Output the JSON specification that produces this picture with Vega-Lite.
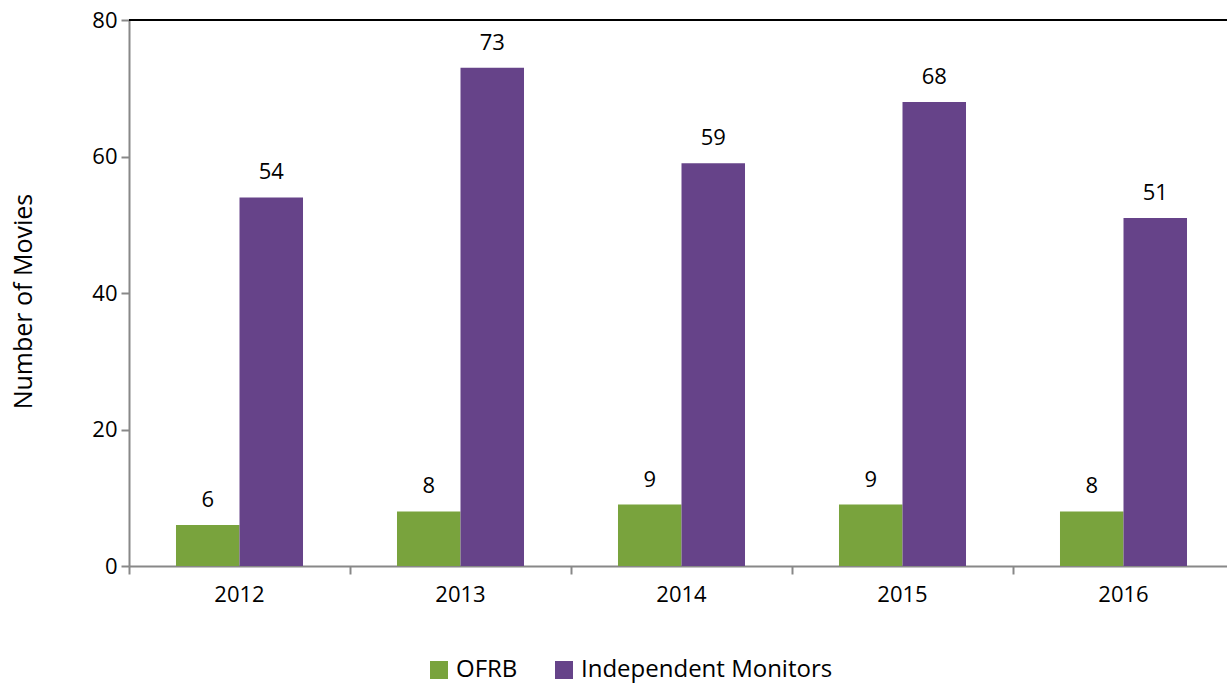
{
  "$schema": "https://vega.github.io/schema/vega-lite/v6.json",
  "autosize": {"type": "none"},
  "padding": {"left": 129, "top": 20, "right": 0, "bottom": 121},
  "width": 1105,
  "height": 546,
  "background": "white",
  "config": {
    "font": "Open Sans",
    "view": {"stroke": null}
  },
  "data": {
    "values": [
      {"year": "2012", "series": "OFRB", "movies": 6},
      {"year": "2012", "series": "Independent Monitors", "movies": 54},
      {"year": "2013", "series": "OFRB", "movies": 8},
      {"year": "2013", "series": "Independent Monitors", "movies": 73},
      {"year": "2014", "series": "OFRB", "movies": 9},
      {"year": "2014", "series": "Independent Monitors", "movies": 59},
      {"year": "2015", "series": "OFRB", "movies": 9},
      {"year": "2015", "series": "Independent Monitors", "movies": 68},
      {"year": "2016", "series": "OFRB", "movies": 8},
      {"year": "2016", "series": "Independent Monitors", "movies": 51}
    ]
  },
  "encoding": {
    "y": {
      "field": "movies", "type": "quantitative",
      "scale": {"domain": [0, 80], "nice": false},
      "axis": {
        "title": "Number of Movies", "titleFontSize": 25, "titleFontWeight": "normal",
        "titleColor": "black", "titlePadding": 55, "titleY": 281,
        "values": [0, 20, 40, 60, 80], "grid": false,
        "labelFontSize": 22, "labelColor": "black", "labelPadding": 4,
        "domainColor": "#888888", "domainWidth": 2,
        "tickColor": "#888888", "tickWidth": 2, "tickSize": 8
      }
    }
  },
  "layer": [
    {
      "mark": {"type": "bar"},
      "encoding": {
        "x": {
          "field": "year", "type": "nominal",
          "scale": {"paddingInner": 0, "paddingOuter": 0},
          "axis": {
            "title": null, "labelAngle": 0, "labelFontSize": 22, "labelColor": "black",
            "labelPadding": 10, "domainColor": "#888888", "domainWidth": 2,
            "tickColor": "#888888", "tickWidth": 2, "tickSize": 8, "bandPosition": 0
          }
        },
        "xOffset": {
          "field": "series", "type": "nominal", "sort": ["OFRB", "Independent Monitors"],
          "scale": {"paddingInner": 0, "paddingOuter": 0.74}
        },
        "color": {
          "field": "series", "type": "nominal",
          "scale": {"domain": ["OFRB", "Independent Monitors"], "range": ["#79A33D", "#664389"]},
          "legend": {
            "title": null, "orient": "none", "direction": "horizontal",
            "legendX": 298, "legendY": 638,
            "symbolType": "square", "symbolSize": 324, "symbolStrokeWidth": 0,
            "labelFontSize": 24, "labelColor": "black", "labelLimit": 500, "labelOffset": 5,
            "columnPadding": 34, "symbolOffset": 0
          }
        }
      }
    },
    {
      "mark": {"type": "text", "fontSize": 22, "color": "black", "baseline": "alphabetic", "dy": -18},
      "encoding": {
        "x": {"field": "year", "type": "nominal"},
        "xOffset": {"field": "series", "type": "nominal", "sort": ["OFRB", "Independent Monitors"]},
        "text": {"field": "movies", "type": "quantitative"}
      }
    },
    {
      "mark": {"type": "rule", "color": "black", "strokeWidth": 2},
      "encoding": {"y": {"datum": 80}}
    }
  ]
}
